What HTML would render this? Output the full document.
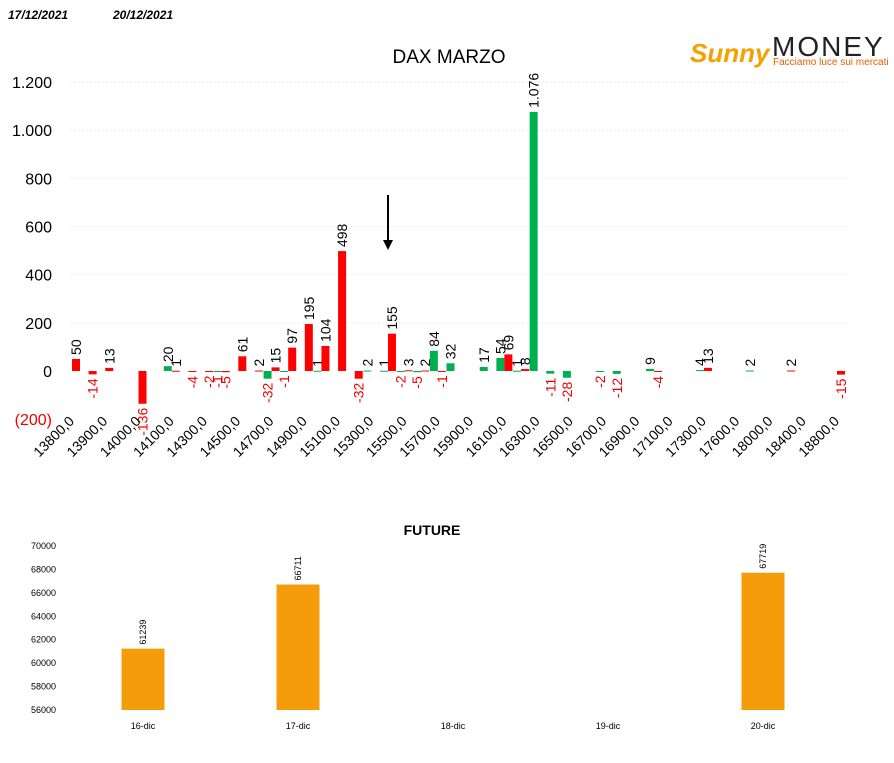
<!DOCTYPE html>
<html><head><meta charset="utf-8"><style>
body{margin:0;background:#fff;width:894px;height:758px;overflow:hidden;font-family:"Liberation Sans",sans-serif}
svg text{font-family:"Liberation Sans",sans-serif}
</style></head><body>
<svg id="chart" width="894" height="758" xmlns="http://www.w3.org/2000/svg">
<text x="8" y="19" font-size="12" font-weight="bold" font-style="italic">17/12/2021</text>
<text x="113" y="19" font-size="12" font-weight="bold" font-style="italic">20/12/2021</text>
<text x="449" y="63" font-size="19" text-anchor="middle">DAX MARZO</text>
<g>
<text x="690" y="62" font-size="26" font-weight="bold" font-style="italic" fill="#f5a000">Sunny</text>
<text x="772" y="56" font-size="28" fill="#222" letter-spacing="2">MONEY</text>
<text x="773" y="65" font-size="10" fill="#e06000">Facciamo luce sui mercati</text>
</g>
<g id="topg"></g>
<line x1="388" y1="195" x2="388" y2="242" stroke="#000" stroke-width="2"/>
<polygon points="383,240 393,240 388,250" fill="#000"/>
<text x="432" y="535" font-size="14" font-weight="bold" text-anchor="middle">FUTURE</text>
<g id="botg"></g>
</svg>
<script>
const strikes=["13800,0","","13900,0","","14000,0","","14100,0","","14300,0","","14500,0","","14700,0","","14900,0","","15100,0","","15300,0","","15500,0","","15700,0","","15900,0","","16100,0","","16300,0","","16500,0","","16700,0","","16900,0","","17100,0","","17300,0","","17600,0","","18000,0","","18400,0","","18800,0"];
const greenVals=[null,null,null,null,null,null,20,null,null,-1,null,null,-32,-1,null,1,null,null,2,1,-2,-5,84,32,null,17,54,1,1076,-11,-28,null,-2,-12,null,9,null,null,4,null,null,2,null,null,null,null,null];
const redVals=[50,-14,13,null,-136,null,1,-4,-2,-5,61,2,15,97,195,104,498,-32,null,155,3,2,-1,null,null,null,69,8,null,null,null,null,null,null,null,-4,null,null,13,null,null,null,null,2,null,null,-15];
const yTicks=[-200,0,200,400,600,800,1000,1200];
const yTickLabels=["(200)","0","200","400","600","800","1.000","1.200"];
const futDays=["16-dic","17-dic","18-dic","19-dic","20-dic"];
const futVals=[61239,66711,null,null,67719];
const futTicks=[56000,58000,60000,62000,64000,66000,68000,70000];

const NS="http://www.w3.org/2000/svg";
function mk(p,t,a){const e=document.createElementNS(NS,t);for(const k in a)e.setAttribute(k,a[k]);p.appendChild(e);return e;}
const topG=document.getElementById('topg');
const y=v=>371-v*0.2408;
const xc=i=>72+i*16.63;
const fmt=v=>Math.abs(v)>=1000?(v<0?"-":"")+Math.floor(Math.abs(v)/1000)+"."+String(Math.abs(v)%1000).padStart(3,"0"):String(v);
yTicks.forEach((t,k)=>{
  if(t>0){const g=mk(topG,'line',{x1:70,x2:850,y1:y(t),y2:y(t),stroke:'#eee','stroke-dasharray':'2,2'});
  
  }
  const tx=mk(topG,'text',{x:52,y:y(t)+6,'font-size':16,'text-anchor':'end',fill:t<0?'#e00':'#000'});
  
  
  tx.textContent=yTickLabels[k];
});
function bar(i,v,off,col,name){
  if(v===null)return;
  const x=xc(i)+off;
  const r=mk(topG,'rect',{x:x-4,y:Math.min(y(v),y(0)),width:8,height:Math.max(1,Math.abs(y(v)-y(0))),fill:col});
  
  
  const ly=v>=0?y(v)-4:y(v)+4;
  const t=mk(topG,'text',{transform:`translate(${x+5},${ly}) rotate(-90)`,'font-size':14,'text-anchor':v>=0?'start':'end',fill:v<0?'#e00':'#000'});
  
  
  t.textContent=fmt(v);
}
strikes.forEach((s,i)=>{
  bar(i,greenVals[i],-4,'#00b050','green-bar');
  bar(i,redVals[i],4,'#f00','red-bar');
  if(s){const t=mk(topG,'text',{transform:`translate(${xc(i)+3},422) rotate(-45)`,'font-size':14,'text-anchor':'end'});
  
  
  t.textContent=s;}
});
const botG=document.getElementById('botg');
const fy=v=>710-(v-56000)*164/14000;
const fx=i=>143+i*155;
futTicks.forEach(t=>{const tx=mk(botG,'text',{x:56,y:fy(t)+3,'font-size':9,'text-anchor':'end'});


tx.textContent=t;});
futDays.forEach((d,i)=>{
  const tx=mk(botG,'text',{x:fx(i),y:729,'font-size':9,'text-anchor':'middle'});
  
  
  tx.textContent=d;
  const v=futVals[i];if(v===null)return;
  const r=mk(botG,'rect',{x:fx(i)-21.5,y:fy(v),width:43,height:fy(56000)-fy(v),fill:'#f59c0a'});
  
  
  const l=mk(botG,'text',{transform:`translate(${fx(i)+3},${fy(v)-4}) rotate(-90)`,'font-size':9});
  
  
  l.textContent=v;
});
</script>
</body></html>
